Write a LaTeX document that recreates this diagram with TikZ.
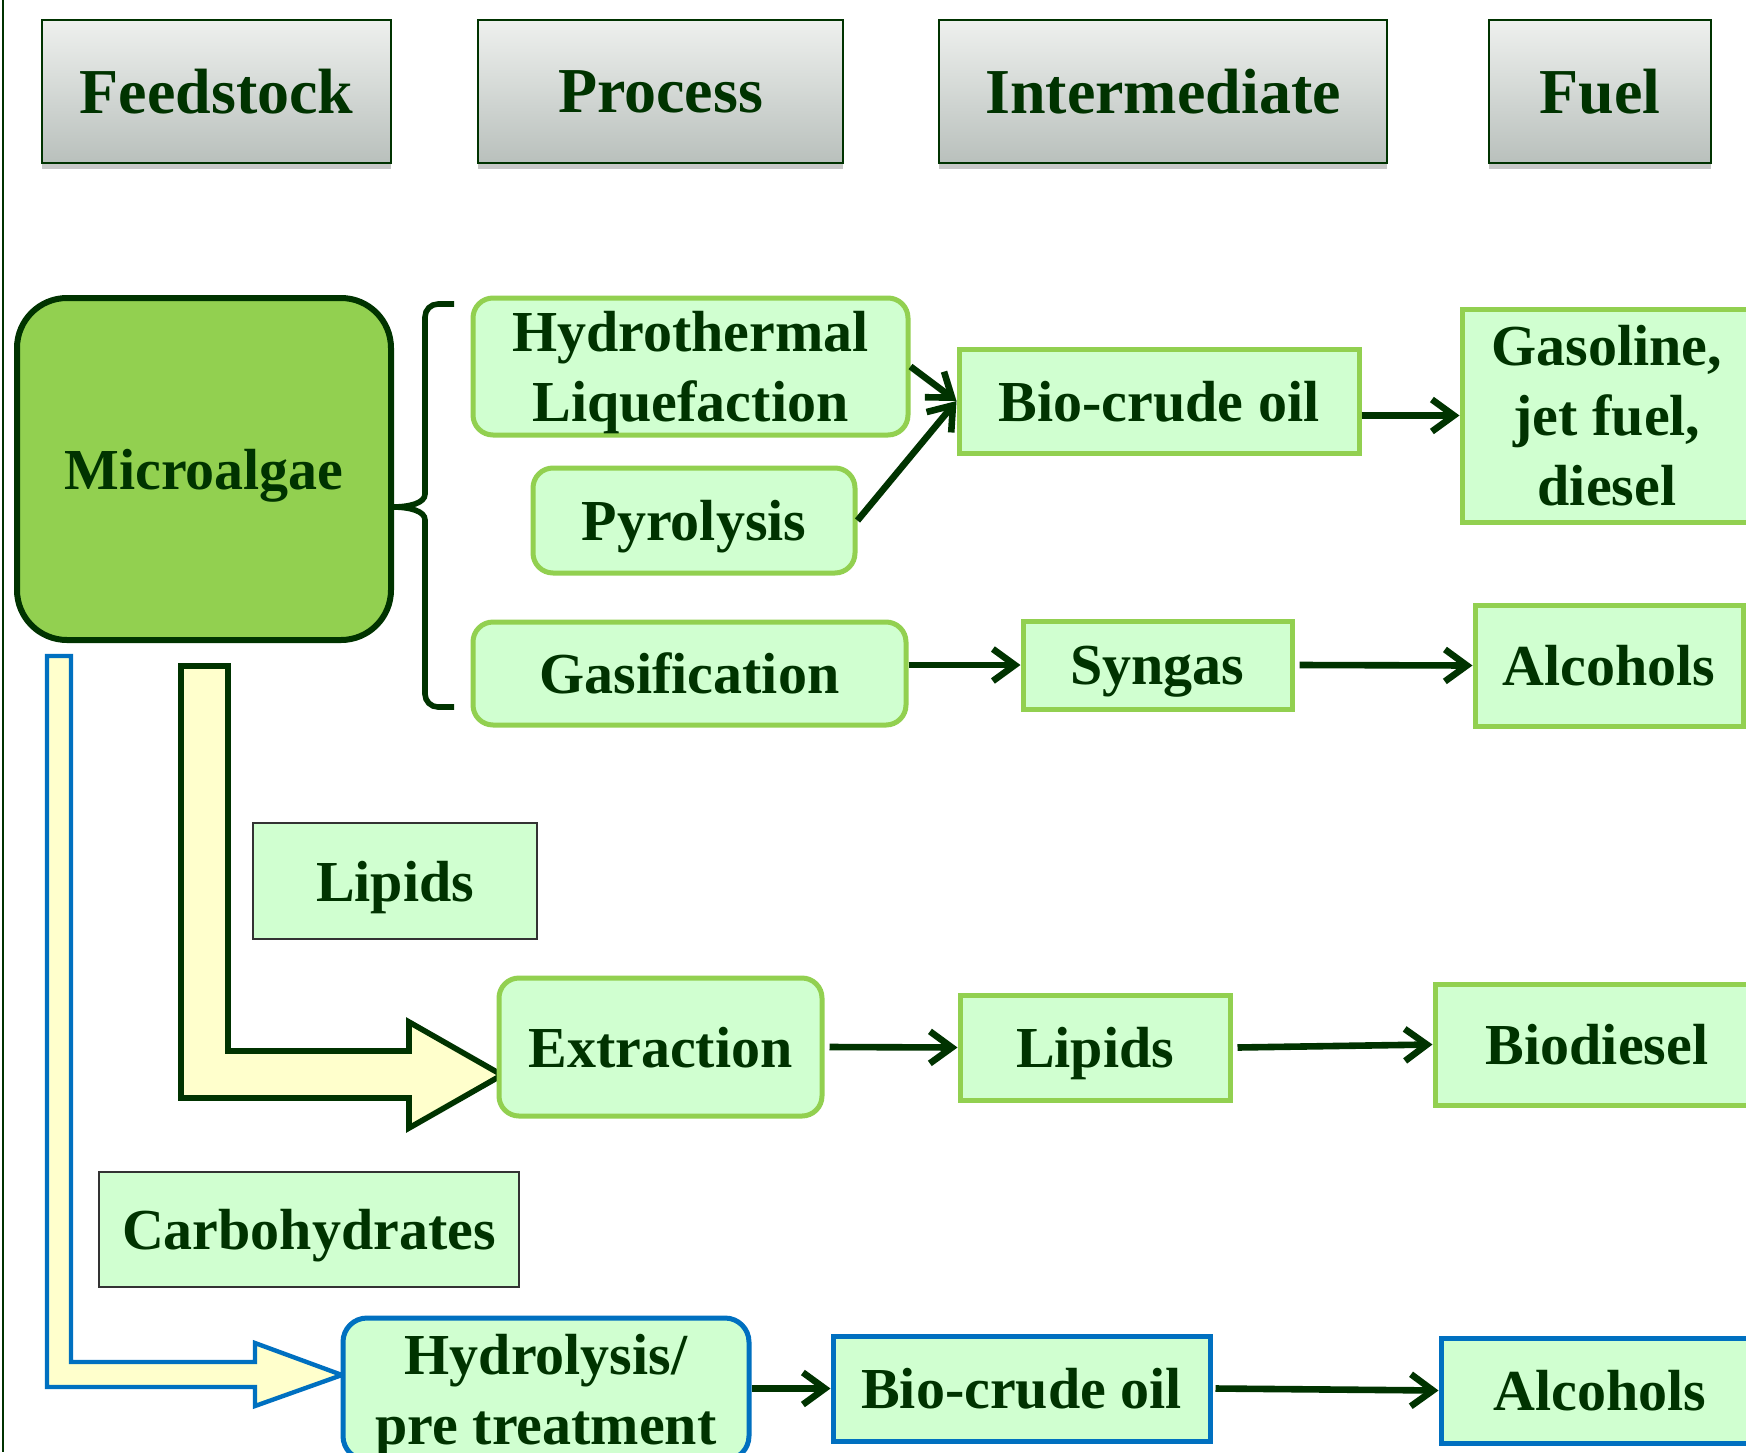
\documentclass[tikz,border=0pt]{standalone}
\usepackage{fontspec}
\setmainfont{Liberation Serif}
\usetikzlibrary{arrows.meta,shadows}
\definecolor{dg}{HTML}{003300}
\definecolor{lg}{HTML}{D0FFD0}
\definecolor{gb}{HTML}{92D050}
\definecolor{blu}{HTML}{0070C0}
\definecolor{yel}{HTML}{FFFFCC}
\definecolor{htop}{HTML}{EEF0EE}
\definecolor{hbot}{HTML}{B9C0BC}
\newcommand\fbody{\fontsize{29}{35}\selectfont\bfseries}
\newcommand\fhead{\fontsize{32}{38}\selectfont\bfseries}
\tikzset{
  hdr/.style={draw=dg, line width=0.9pt, top color=htop, bottom color=hbot,
    drop shadow={shadow xshift=0pt, shadow yshift=-3pt, opacity=0.3, fill=black!70},
    font=\fhead, text=dg, inner sep=0pt, text depth=0pt},
  base/.style={fill=lg, font=\fbody, text=dg, inner sep=0pt, align=center, text depth=0pt},
  proc/.style={base, draw=gb, line width=2.5pt, rounded corners=10pt},
  inter/.style={base, draw=gb, line width=2.5pt},
  bproc/.style={base, draw=blu, line width=2.5pt, rounded corners=12pt},
  binter/.style={base, draw=blu, line width=2.5pt},
  lbl/.style={base, draw=black!80, line width=0.6pt},
  conn/.style={draw=dg, line width=3.3pt, -{Straight Barb[length=11pt,width=16pt]}},
}
\begin{document}
\begin{tikzpicture}[x=0.5pt,y=-0.5pt]
\useasboundingbox (0,0) rectangle (1746,1452);
\fill[white] (0,0) rectangle (1746,1452);
\draw[dg, line width=0.8pt] (3,0) -- (3,1452);

% headers
\node[hdr, minimum width=174.5pt, minimum height=71.5pt] (hfeed) at (216.5,91.5) {Feedstock};
\node[hdr, minimum width=182.5pt, minimum height=71.5pt] (hproc) at (660.5,91.5) {Process};
\node[hdr, minimum width=224pt, minimum height=71.5pt] (hint) at (1163,91.5) {Intermediate};
\node[hdr, minimum width=111pt, minimum height=71.5pt] (hfuel) at (1600,91.5) {Fuel};

% big arrows (shapes)
\draw[draw=dg, fill=yel, line width=2.8pt, line join=miter]
  (181,666) -- (228,666) -- (228,1051) -- (409,1051) -- (409,1022) -- (502,1075)
  -- (409,1128) -- (409,1098) -- (181,1098) -- cycle;
\draw[draw=blu, fill=yel, line width=2.2pt, line join=miter]
  (47,656) -- (71,656) -- (71,1362) -- (255,1362) -- (255,1343) -- (342,1375)
  -- (255,1406) -- (255,1387) -- (47,1387) -- cycle;

% feedstock
\node[base, draw=dg, fill=gb, line width=3pt, rounded corners=25pt,
  minimum width=187pt, minimum height=171pt] (micro) at (204,469) {Microalgae};

% brace
\draw[dg, line width=2.8pt]
  (454,304) -- (438,304) to[out=180,in=90] (425,317) -- (425,494)
  .. controls (425,503) and (410,507) .. (392,507)
  .. controls (410,507) and (425,511) .. (425,520)
  -- (425,694) to[out=-90,in=180] (438,707) -- (454,707);

% processes
\node[proc, minimum width=217.5pt, minimum height=68.5pt] (htl) at (690.5,366.5) {Hydrothermal\\Liquefaction};
\node[proc, minimum width=161pt, minimum height=52.5pt] (pyro) at (694,520.5) {Pyrolysis};
\node[proc, minimum width=216.5pt, minimum height=51.5pt] (gasi) at (689.5,673.5) {Gasification};
\node[proc, minimum width=161.5pt, minimum height=69pt] (ext) at (660.5,1047) {Extraction};
\node[bproc, minimum width=203pt, minimum height=71pt] (hyd) at (546,1389) {Hydrolysis/\\pre treatment};

% labels
\node[lbl, minimum width=142pt, minimum height=58pt] (lipl) at (395,881) {Lipids};
\node[lbl, minimum width=210pt, minimum height=57.5pt] (carb) at (309,1229.5) {Carbohydrates};

% intermediates
\node[inter, minimum width=200pt, minimum height=52pt] (bio) at (1159,401) {Bio-crude oil};
\node[inter, minimum width=134.5pt, minimum height=44pt] (syn) at (1157.5,665) {Syngas};
\node[inter, minimum width=135pt, minimum height=52.5pt] (lip) at (1095,1047.5) {Lipids};
\node[binter, minimum width=188.5pt, minimum height=52.5pt] (bio2) at (1021.5,1388.5) {Bio-crude oil};

% fuels
\node[inter, minimum width=145pt, minimum height=106.5pt] (gas) at (1607,415.5) {Gasoline,\\jet fuel,\\diesel};
\node[inter, minimum width=134pt, minimum height=60.5pt] (alc) at (1609,665.5) {Alcohols};
\node[inter, minimum width=162pt, minimum height=60.5pt] (biod) at (1597,1044.5) {Biodiesel};
\node[binter, minimum width=159pt, minimum height=52.5pt] (alc2) at (1600,1390.5) {Alcohols};

% connectors
\draw[conn] (htl.east) -- (bio.west);
\draw[conn] (pyro.east) -- (bio.west);
\draw[conn] (bio.east |- gas.west) -- (gas.west);
\draw[conn] (gasi.east |- syn.west) -- (syn.west);
\draw[conn] ([xshift=2.5pt]syn.east) -- (alc.west);
\draw[conn] ([xshift=2.5pt]ext.east) -- (lip.west);
\draw[conn] ([xshift=2.5pt]lip.east) -- (biod.west);
\draw[conn] (hyd.east |- bio2.west) -- (bio2.west);
\draw[conn] ([xshift=1.5pt]bio2.east) -- (alc2.west);
\end{tikzpicture}
\end{document}
